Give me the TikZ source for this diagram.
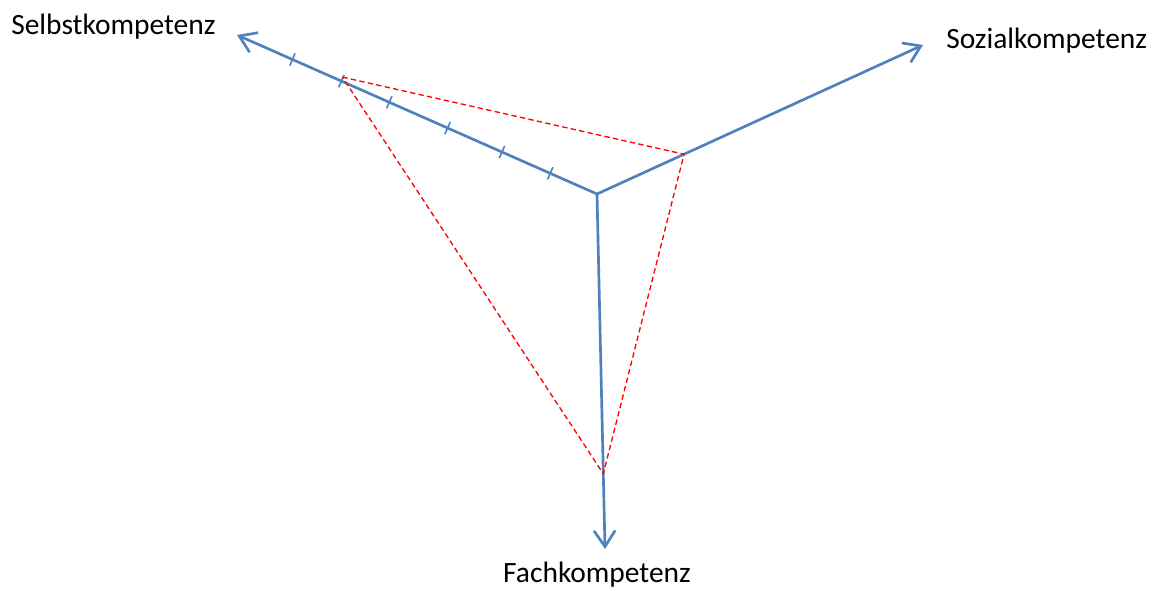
\documentclass[tikz,border=0pt]{standalone}
\usepackage{fontspec}
\setmainfont{Carlito}
\usepackage{tikz}
\usetikzlibrary{arrows.meta,calc}
\definecolor{axisblue}{HTML}{4F81BD}

\begin{document}
\begin{tikzpicture}[x=0.75pt,y=-0.75pt,
	axis/.style={draw=axisblue,line width=2pt,-{Straight Barb[length=12pt,width=16pt,line width=2pt]}},
	tick/.style={draw=axisblue,line width=1.2pt},
	profile/.style={draw=red,line width=1pt,dash pattern=on 4pt off 2.5pt},
	label/.style={inner sep=0pt,font=\fontsize{22.1}{26}\selectfont}]
\useasboundingbox (0,0) rectangle (1152,590);

\coordinate (O) at (597,194);
\coordinate (selbst) at (237,35);
\coordinate (sozial) at (923,45);
\coordinate (fach) at (605,549);

\draw[axis] (O) -- (selbst);
\draw[axis] (O) -- (sozial);
\draw[axis] (O) -- (fach);

\foreach \p in {0.13,0.264,0.415,0.577,0.71,0.846}
	\draw[tick] ($(O)!\p!(selbst)!5pt!90:(selbst)$) -- ($(O)!\p!(selbst)!5pt!-90:(selbst)$);

\coordinate (pselbst) at ($(O)!0.71!(selbst)+(1,-4)$);
\coordinate (psozial) at ($(O)!0.267!(sozial)$);
\coordinate (pfach) at ($(O)!0.788!(fach)$);
\draw[profile] (pselbst) -- (psozial) -- (pfach) -- cycle;

\node[label,anchor=base west] (lselbst) at (11,34) {Selbstkompetenz};
\node[label,anchor=base west] (lsozial) at (946,48) {Sozialkompetenz};
\node[label,anchor=base] (lfach) at (597,582) {Fachkompetenz};

\end{tikzpicture}
\end{document}
